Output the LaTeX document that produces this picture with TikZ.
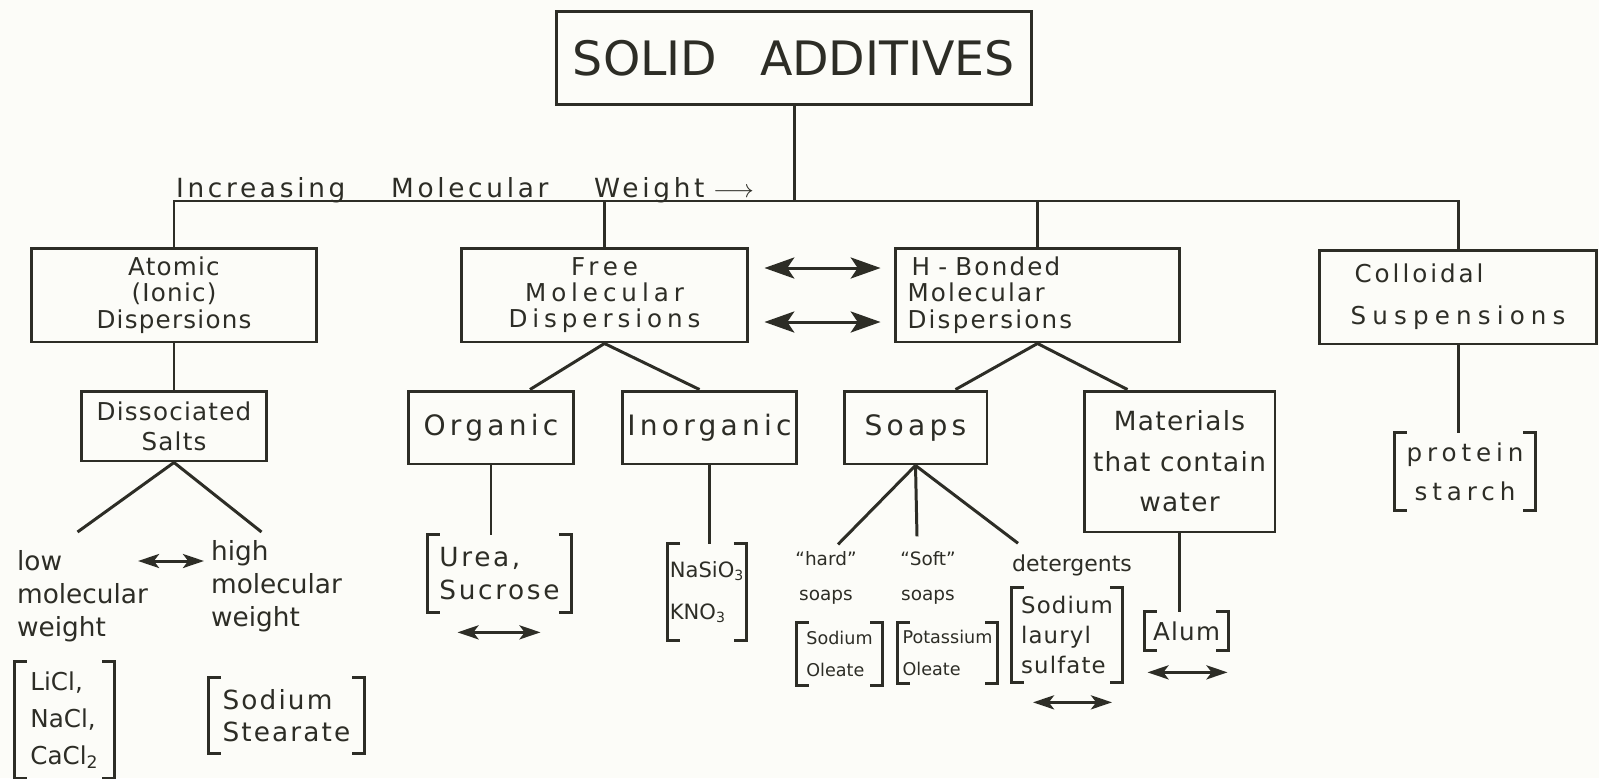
\documentclass[tikz,border=0pt]{standalone}
\usepackage{fontspec}
\newfontfamily\hand{DejaVu Sans}
\usetikzlibrary{arrows.meta,calc}
\definecolor{ink}{RGB}{45,45,38}
\definecolor{paper}{RGB}{252,252,248}
\newcommand\handsz[3]{\fontsize{#1}{#2}\selectfont\hand\addfontfeature{LetterSpace=#3}}
\tikzset{
  wire/.style={draw=ink, line width=1.7pt},
  box/.style={wire, text=ink, inner sep=2pt, align=center},
  txt/.style={text=ink, inner sep=1pt, align=center},
  brk/.style={txt, align=left},
  twoway/.style={wire, {Stealth[length=17pt,width=12pt,inset=4pt]}-{Stealth[length=17pt,width=12pt,inset=4pt]}},
  smallway/.style={wire, {Stealth[length=12pt,width=8pt,inset=3pt]}-{Stealth[length=12pt,width=8pt,inset=3pt]}}
}
\begin{document}
\begin{tikzpicture}[x=0.02cm, y=-0.02cm]
\fill[paper] (0,0) rectangle (1599,778);
\useasboundingbox (0,0) rectangle (1599,778);

% top of the tree
\node[box, minimum width=9.52cm, minimum height=1.86cm, font=\handsz{27}{30}{0}] (solid) at (794,58) {SOLID\hspace{0.9em}ADDITIVES};
\coordinate (bar) at (0,201);
\node[txt, anchor=base west, font=\handsz{15}{16}{14}] (mw) at (174,197) {Increasing\hspace{26pt}Molecular\hspace{26pt}Weight\hspace{5pt}$\longrightarrow$};

% dispersion types
\node[box, minimum width=5.7cm, minimum height=1.88cm, font=\handsz{14}{15}{5}] (atomic) at (174,295) {Atomic\\(Ionic)\\Dispersions};
\node[box, minimum width=5.74cm, minimum height=1.88cm, font=\handsz{14}{15}{20}] (free) at (604.5,295) {Free\\Molecular\\Dispersions};
\node[box, minimum width=5.7cm, minimum height=1.88cm, text width=5.2cm, inner xsep=0.25cm, align=left, font=\handsz{14}{15}{9}] (hbond) at (1037.5,295) {\,H - Bonded\\Molecular\\Dispersions};
\node[box, minimum width=5.54cm, minimum height=1.88cm, align=left, font=\handsz{14}{24}{25}] (colloid) at (1458,297) {\,{\addfontfeature{LetterSpace=12}Colloidal}\\Suspensions};

\draw[wire] (solid.south) -- (solid.south |- bar);
\draw[wire] (atomic.north) |- (colloid.north |- bar) -- (colloid.north);
\foreach \n in {free, hbond}
  \draw[wire] (\n.north) -- (\n.north |- bar);

\draw[twoway] ($(free.east)+(15,-27)$) -- ($(hbond.west)+(-13,-27)$);
\draw[twoway] ($(free.east)+(15,27)$) -- ($(hbond.west)+(-13,27)$);

% second row
\node[box, minimum width=3.72cm, minimum height=1.4cm, font=\handsz{14}{17}{5}] (salts) at (174,426) {Dissociated\\Salts};
\node[box, minimum width=3.32cm, minimum height=1.46cm, font=\handsz{16}{18}{15}] (organic) at (491,427.5) {Organic};
\node[box, minimum width=3.5cm, minimum height=1.46cm, font=\handsz{16}{18}{15}] (inorganic) at (709.5,427.5) {Inorganic};
\node[box, minimum width=2.86cm, minimum height=1.46cm, font=\handsz{16}{18}{15}] (soaps) at (915.5,427.5) {Soaps};
\node[box, minimum width=3.82cm, minimum height=2.82cm, font=\handsz{15}{23}{5}] (materials) at (1179.5,461.5) {Materials\\that contain\\water};

\draw[wire] (atomic.south) -- (salts.north);
\draw[wire] ($(organic.north)+(39,0)$) -- (free.south) -- ($(inorganic.north)+(-10,0)$);
\draw[wire] ($(soaps.north)+(40,0)$) -- (hbond.south) -- ($(materials.north)+(-52,0)$);

% colloids
\node[brk, align=center, minimum width=2.8cm, minimum height=1.54cm, font=\handsz{14}{22}{20}] (protein) at (1465,471.5) {protein\\starch};
\draw[wire] (colloid.south) -- (colloid.south |- protein.north);

% salts
\node[txt, anchor=north west, align=left, font=\handsz{15}{19}{0}] (low) at (15,548) {low\\molecular\\weight};
\node[txt, anchor=north west, align=left, font=\handsz{15}{19}{0}] (high) at (209,538) {high\\molecular\\weight};
\draw[wire] ($(low.north)+(-5,-16)$) -- (salts.south) -- ($(high.north)+(-15,-6)$);
\draw[smallway] ($(low.north east)+(-12,13)$) -- ($(high.north west)+(-5,23)$);
\node[brk, minimum width=1.98cm, minimum height=2.34cm, font=\handsz{14}{21}{0}] (lic) at (64.5,720) {LiCl,\\NaCl,\\CaCl\textsubscript{2}};
\node[brk, minimum width=3.1cm, minimum height=1.5cm, font=\handsz{15}{18}{8}] (stearate) at (286.5,715.5) {Sodium\\Stearate};

% free molecular
\node[brk, minimum width=2.86cm, minimum height=1.54cm, font=\handsz{15}{19}{10}] (urea) at (499.5,573.5) {Urea,\\Sucrose};
\draw[wire] (organic.south) -- (organic.south |- urea.north);
\draw[smallway] ($(urea.south)+(-42,20)$) -- ($(urea.south)+(41,20)$);
\node[brk, minimum width=1.36cm, minimum height=1.92cm, font=\handsz{12}{24}{0}] (nasio) at (707,592) {NaSiO\textsubscript{3}\\KNO\textsubscript{3}};
\draw[wire] (inorganic.south) -- (inorganic.south |- nasio.north);

% soaps
\node[txt, font=\handsz{10.5}{20}{0}] (hard) at (826,578) {“hard”\\soaps};
\node[txt, font=\handsz{10.5}{20}{0}] (soft) at (928,578) {“Soft”\\soaps};
\node[txt, font=\handsz{12.5}{15}{0}] (deterg) at (1072,565) {detergents};
\draw[wire] (soaps.south) -- ($(hard.north)+(12,-5)$);
\draw[wire] (soaps.south) -- ($(soft.north)+(-11,-13)$);
\draw[wire] (soaps.south) -- ($(deterg.north)+(-54,-9)$);
\node[brk, minimum width=1.7cm, minimum height=1.24cm, font=\handsz{10}{18}{0}] (naoleate) at (839.5,654) {Sodium\\Oleate};
\node[brk, minimum width=1.98cm, minimum height=1.2cm, font=\handsz{10}{18}{0}] (koleate) at (947.5,653) {Potassium\\Oleate};
\node[brk, minimum width=2.2cm, minimum height=1.88cm, font=\handsz{13}{17}{5}] (lauryl) at (1067,635) {Sodium\\lauryl\\sulfate};
\draw[smallway] ($(lauryl.south)+(-34,20)$) -- ($(lauryl.south)+(45,20)$);

% water
\node[brk, minimum width=1.66cm, minimum height=0.76cm, font=\handsz{14}{16}{5}] (alum) at (1186.5,631) {Alum};
\draw[wire] (materials.south) -- (materials.south |- alum.north);
\draw[smallway] ($(alum.south)+(-39,22)$) -- ($(alum.south)+(41,22)$);

% square brackets
\foreach \b in {lic, stearate, urea, nasio, protein, naoleate, koleate, lauryl, alum}
  \draw[wire] ([xshift=7pt]\b.north west) -- (\b.north west) -- (\b.south west) -- ([xshift=7pt]\b.south west)
              ([xshift=-7pt]\b.north east) -- (\b.north east) -- (\b.south east) -- ([xshift=-7pt]\b.south east);
\end{tikzpicture}
\end{document}
